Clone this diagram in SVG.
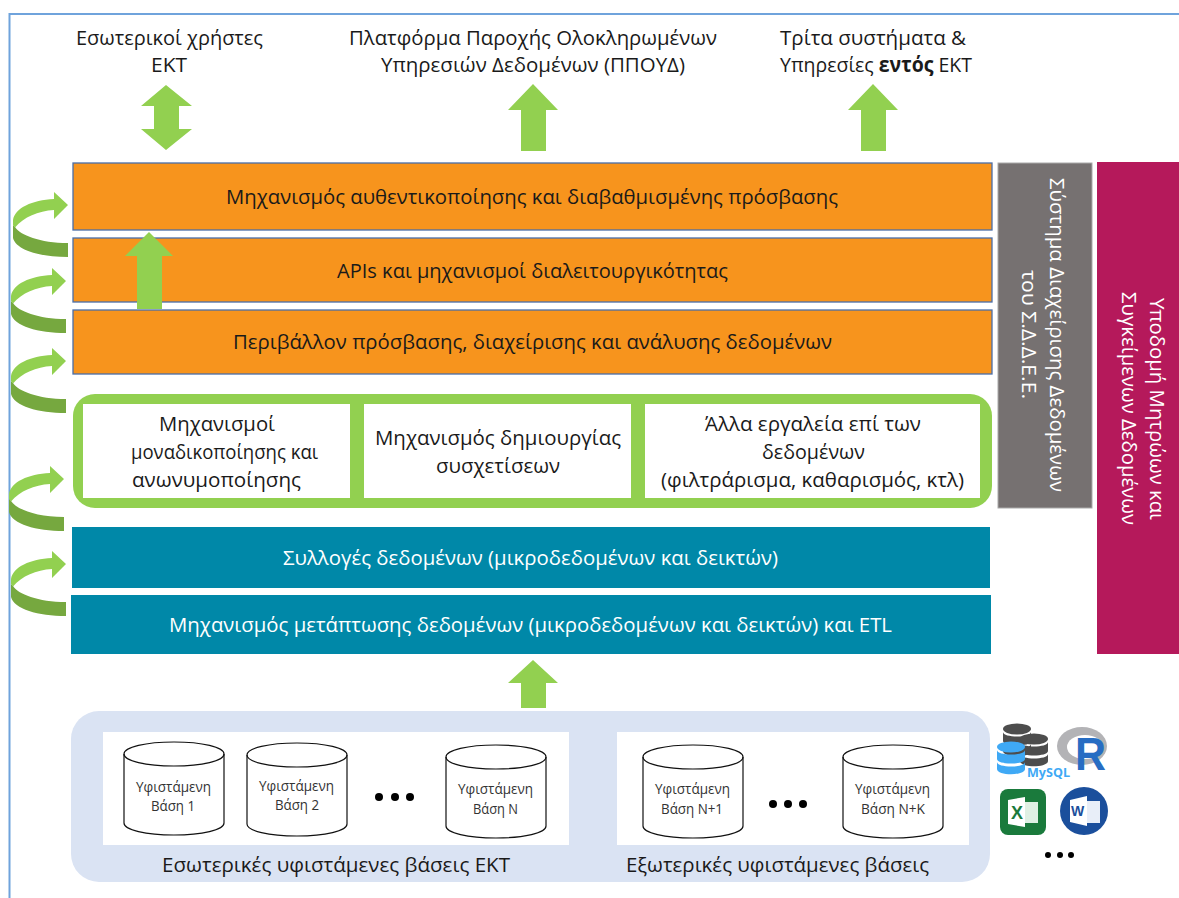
<svg xmlns="http://www.w3.org/2000/svg" width="1179" height="898" viewBox="0 0 1179 898">
<style>
text{font-family:"Open Sans","Noto Sans","DejaVu Sans",sans-serif;fill:#1a1a1a}
.m{font-size:20.500px}
.c{font-size:14.500px;fill:#333}
.w{fill:#fff}
.lg{fill:#92d050}
.dk{fill:#76a83f}
.cyl{fill:#fff;stroke:#111;stroke-width:1.200}
.or{fill:#f7941d;stroke:#4a6ea8;stroke-width:1.300}
.te{fill:#0088a8}
.dot{fill:#000}
</style>
<defs>
<g id="curve">
<path class="dk" d="M13,225 L15,227 C20,235 40,243 68,243 L68,257 C40,257 16,250 13,238 Z"/>
<path class="lg" d="M54,199 L54,192 L68,205 L54,219 L54,210 C38,211 24,217 15,227.500 L13,225 L13,220 C15,208 32,200 54,199 Z"/>
</g>
<g id="cyl">
<path class="cyl" d="M-50,0 L-50,69 C-50,76 -28,81 0,81 C28,81 50,76 50,69 L50,0 C50,-7 28,-12 0,-12 C-28,-12 -50,-7 -50,0 Z"/>
<path class="cyl" d="M-50,0 C-50,7 -28,12 0,12 C28,12 50,7 50,0" style="fill:none"/>
</g>
<g id="stack">
<ellipse cx="0" cy="0" rx="14" ry="5.500"/>
<path d="M-14,3 C-14,9 14,9 14,3 L14,12 C14,18 -14,18 -14,12 Z"/>
<path d="M-14,15 C-14,21 14,21 14,15 L14,22 C14,29 -14,29 -14,22 Z"/>
</g>
</defs>

<path d="M9.500,898 L9.500,14 L1179,14" fill="none" stroke="#6fa3dc" stroke-width="2"/>

<g id="connectors">
<use href="#curve"/>
<use href="#curve" x="-2" y="76"/>
<use href="#curve" x="-2" y="156"/>
<use href="#curve" x="-4" y="274"/>
<use href="#curve" x="-2" y="359"/>
</g>

<g id="node-auth"><rect class="or" x="73" y="163" width="919" height="67"/>
<text class="m" x="226" y="204" textLength="612" lengthAdjust="spacingAndGlyphs">Μηχανισμός αυθεντικοποίησης και διαβαθμισμένης πρόσβασης</text></g>
<g id="node-apis"><rect class="or" x="73" y="238" width="919" height="64"/>
<text class="m" x="337" y="278" textLength="391" lengthAdjust="spacingAndGlyphs">APIs και μηχανισμοί διαλειτουργικότητας</text></g>
<g id="node-env"><rect class="or" x="73" y="310" width="919" height="64"/>
<text class="m" x="233" y="349" textLength="599" lengthAdjust="spacingAndGlyphs">Περιβάλλον πρόσβασης, διαχείρισης και ανάλυσης δεδομένων</text></g>

<g id="arrows">
<path class="lg" d="M137,309 L137,256 L125,256 L149,232 L173,256 L162,256 L162,309 Z"/>
<path class="lg" d="M166,85 L192,106 L179,106 L179,129 L192,129 L166,150 L141,129 L154,129 L154,106 L141,106 Z"/>
<path class="lg" d="M533,84 L558,110 L546,110 L546,151 L521,151 L521,110 L508,110 Z"/>
<path class="lg" d="M873,84 L898,110 L886,110 L886,151 L861,151 L861,110 L848,110 Z"/>
<path class="lg" d="M533,660 L558,683 L546,683 L546,708 L521,708 L521,683 L508,683 Z"/>
</g>

<g id="top-labels">
<text class="m" x="76" y="45" textLength="187" lengthAdjust="spacingAndGlyphs">Εσωτερικοί χρήστες</text>
<text class="m" x="151" y="72" textLength="36" lengthAdjust="spacingAndGlyphs">ΕΚΤ</text>
<text class="m" x="349" y="45" textLength="368" lengthAdjust="spacingAndGlyphs">Πλατφόρμα Παροχής Ολοκληρωμένων</text>
<text class="m" x="381" y="72" textLength="304" lengthAdjust="spacingAndGlyphs">Υπηρεσιών Δεδομένων (ΠΠΟΥΔ)</text>
<text class="m" x="780" y="45" textLength="186" lengthAdjust="spacingAndGlyphs">Τρίτα συστήματα &amp;</text>
<text class="m" x="780" y="72" textLength="192" lengthAdjust="spacingAndGlyphs">Υπηρεσίες <tspan font-weight="700">εντός</tspan> ΕΚΤ</text>
</g>

<g id="node-tools">
<rect x="73" y="394" width="919" height="114" rx="22" class="lg"/>
<rect x="83" y="404" width="267" height="94" fill="#fff"/>
<rect x="364" y="404" width="267" height="94" fill="#fff"/>
<rect x="645" y="404" width="335" height="94" fill="#fff"/>
<text class="m" x="159" y="431" textLength="116" lengthAdjust="spacingAndGlyphs">Μηχανισμοί</text>
<text class="m" x="131" y="459" textLength="187" lengthAdjust="spacingAndGlyphs">μοναδικοποίησης και</text>
<text class="m" x="132" y="487" textLength="169" lengthAdjust="spacingAndGlyphs">ανωνυμοποίησης</text>
<text class="m" x="375" y="445" textLength="246" lengthAdjust="spacingAndGlyphs">Μηχανισμός δημιουργίας</text>
<text class="m" x="436" y="473" textLength="124" lengthAdjust="spacingAndGlyphs">συσχετίσεων</text>
<text class="m" x="705" y="431" textLength="216" lengthAdjust="spacingAndGlyphs">Άλλα εργαλεία επί των</text>
<text class="m" x="762" y="459" textLength="103" lengthAdjust="spacingAndGlyphs">δεδομένων</text>
<text class="m" x="661" y="487" textLength="303" lengthAdjust="spacingAndGlyphs">(φιλτράρισμα, καθαρισμός, κτλ)</text>
</g>

<g id="node-collections"><rect class="te" x="72" y="527" width="918" height="61"/>
<text class="m w" x="283" y="565" textLength="495" lengthAdjust="spacingAndGlyphs">Συλλογές δεδομένων (μικροδεδομένων και δεικτών)</text></g>
<g id="node-etl"><rect class="te" x="71" y="595" width="920" height="59"/>
<text class="m w" x="169" y="632" textLength="723" lengthAdjust="spacingAndGlyphs">Μηχανισμός μετάπτωσης δεδομένων (μικροδεδομένων και δεικτών) και ETL</text></g>

<g id="node-sdm"><rect x="998" y="163" width="94" height="345" fill="#767171" stroke="#aaa" stroke-width="1"/>
<text class="m w" transform="translate(1050,178) rotate(90)" textLength="314" lengthAdjust="spacingAndGlyphs">Σύστημα Διαχείρισης Δεδομένων</text>
<text class="m w" transform="translate(1022,270) rotate(90)" textLength="129" lengthAdjust="spacingAndGlyphs">του Σ.Δ.Δ.Ε.Ε.</text></g>
<g id="node-registries"><rect x="1097" y="162" width="82" height="492" fill="#b5195b"/>
<text class="m w" transform="translate(1150,298) rotate(90)" textLength="222" lengthAdjust="spacingAndGlyphs">Υποδομή Μητρώων και</text>
<text class="m w" transform="translate(1122,292) rotate(90)" textLength="233" lengthAdjust="spacingAndGlyphs">Συγκείμενων Δεδομένων</text></g>

<g id="node-sources">
<rect x="71" y="711" width="919" height="171" rx="28" fill="#dae3f3"/>
<rect x="103" y="732" width="466" height="113" fill="#fff"/>
<rect x="617" y="732" width="352" height="113" fill="#fff"/>
<text class="m" x="162" y="872" textLength="348" lengthAdjust="spacingAndGlyphs">Εσωτερικές υφιστάμενες βάσεις ΕΚΤ</text>
<text class="m" x="626" y="872" textLength="303" lengthAdjust="spacingAndGlyphs">Εξωτερικές υφιστάμενες βάσεις</text>
</g>
<g id="node-db1"><use href="#cyl" x="174" y="754"/><text class="c" x="136" y="792" textLength="75" lengthAdjust="spacingAndGlyphs">Υφιστάμενη</text><text class="c" x="151" y="811" textLength="44" lengthAdjust="spacingAndGlyphs">Βάση 1</text></g>
<g id="node-db2"><use href="#cyl" x="297" y="755"/><text class="c" x="259" y="791" textLength="75" lengthAdjust="spacingAndGlyphs">Υφιστάμενη</text><text class="c" x="275" y="810" textLength="44" lengthAdjust="spacingAndGlyphs">Βάση 2</text></g>
<g id="node-dbn"><use href="#cyl" x="496" y="757"/><text class="c" x="458" y="794" textLength="75" lengthAdjust="spacingAndGlyphs">Υφιστάμενη</text><text class="c" x="473" y="814" textLength="45" lengthAdjust="spacingAndGlyphs">Βάση Ν</text></g>
<g id="node-dbn1"><use href="#cyl" x="693" y="757"/><text class="c" x="655" y="794" textLength="75" lengthAdjust="spacingAndGlyphs">Υφιστάμενη</text><text class="c" x="661" y="814" textLength="62" lengthAdjust="spacingAndGlyphs">Βάση Ν+1</text></g>
<g id="node-dbnk"><use href="#cyl" x="893" y="757"/><text class="c" x="855" y="794" textLength="75" lengthAdjust="spacingAndGlyphs">Υφιστάμενη</text><text class="c" x="861" y="814" textLength="64" lengthAdjust="spacingAndGlyphs">Βάση Ν+Κ</text></g>
<g id="dots">
<circle class="dot" cx="379" cy="797" r="4"/><circle class="dot" cx="395" cy="797" r="4"/><circle class="dot" cx="410" cy="797" r="4"/>
<circle class="dot" cx="773" cy="804" r="4"/><circle class="dot" cx="788" cy="804" r="4"/><circle class="dot" cx="803" cy="804" r="4"/>
<circle class="dot" cx="1048" cy="855" r="3"/><circle class="dot" cx="1060" cy="855" r="3"/><circle class="dot" cx="1071" cy="855" r="3"/>
</g>

<g id="icons">
<use href="#stack" x="1017" y="729" fill="#4d4d4d"/>
<use href="#stack" x="1034" y="739" fill="#4d4d4d"/>
<use href="#stack" x="1011" y="747" fill="#3fa9f5"/>
<text x="1027" y="777" font-size="13" font-weight="700" style="fill:#3fa9f5" textLength="43" lengthAdjust="spacingAndGlyphs">MySQL</text>
<ellipse cx="1082" cy="746" rx="25" ry="19" fill="#b3b3b6"/>
<ellipse cx="1085" cy="747" rx="18" ry="12" fill="#fff"/>
<text x="1075" y="770" font-size="46" font-weight="700" style="fill:#276dc3;font-family:'Liberation Sans',sans-serif" textLength="31" lengthAdjust="spacingAndGlyphs">R</text>
<rect x="1000" y="789" width="46" height="46" rx="8" fill="#1a7a3c"/>
<rect x="1025" y="802" width="13" height="21" fill="#dff0e4"/>
<path d="M1008,800 L1025,797 L1025,827 L1008,824 Z" fill="#fff"/>
<text x="1011" y="819" font-size="18" font-weight="700" style="fill:#1a7a3c;font-family:'Liberation Sans',sans-serif">X</text>
<circle cx="1084" cy="811" r="24" fill="#1b4f9c"/>
<rect x="1087" y="801" width="13" height="22" fill="#e8eef8"/>
<path d="M1070,800 L1087,796 L1087,826 L1070,822 Z" fill="#fff"/>
<text x="1071" y="816" font-size="14" font-weight="700" style="fill:#1b4f9c;font-family:'Liberation Sans',sans-serif">W</text>
</g>
</svg>
